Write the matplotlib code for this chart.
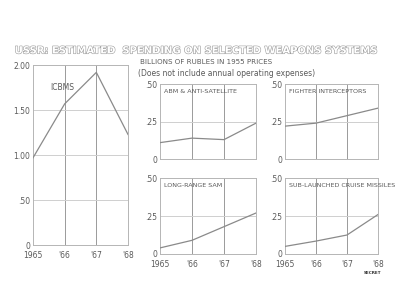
import matplotlib
matplotlib.use('Agg')
import matplotlib.pyplot as plt
import matplotlib.patheffects as pe

# Estimated spending, billions of rubles (1955 prices)
years = [1965, 1966, 1967, 1968]
year_labels = ['1965', "'66", "'67", "'68"]
icbms = [0.97, 1.57, 1.92, 1.23]
abm = [0.11, 0.14, 0.13, 0.24]
fighters = [0.22, 0.24, 0.29, 0.34]
sam = [0.04, 0.09, 0.18, 0.27]
subs = [0.05, 0.085, 0.125, 0.26]

line_c = '#8a8a8a'
grid_c = '#b5b5b5'
text_c = '#5a5a5a'

fig = plt.figure(figsize=(4.0, 3.06), dpi=100)


def style_axes(ax, ymax, yticks, yticklabels, show_x):
    ax.set_xlim(years[0], years[-1])
    ax.set_ylim(0, ymax)
    ax.set_yticks(yticks)
    ax.set_yticklabels(yticklabels, fontsize=5.5, color=text_c)
    ax.set_xticks(years)
    if show_x:
        ax.set_xticklabels(year_labels, fontsize=5.5, color=text_c)
    else:
        ax.set_xticklabels([])
    ax.tick_params(axis='y', length=0, pad=2)
    ax.tick_params(axis='x', length=0, pad=4)
    for s in ax.spines.values():
        s.set_color(grid_c)
        s.set_linewidth(0.7)
    for x in years[1:-1]:
        ax.axvline(x, color='#9a9a9a', lw=0.7, zorder=1)
    for y in yticks[1:-1]:
        ax.axhline(y, color='#cfcfcf', lw=0.7, zorder=1)


# ICBMs (big panel)
ax = fig.add_axes([0.0825, 0.199, 0.2375, 0.588])
style_axes(ax, 2.0, [0, 0.5, 1.0, 1.5, 2.0], ['0', '.50', '1.00', '1.50', '2.00'], True)
ax.plot(years, icbms, color=line_c, lw=0.9, zorder=3)
ax.text(1965.55, 1.72, 'ICBMS', fontsize=5.5, color=text_c)

small = [
    ([0.40, 0.480, 0.24, 0.245], abm, 'ABM & ANTI-SATELLITE', False),
    ([0.7125, 0.480, 0.2325, 0.245], fighters, 'FIGHTER INTERCEPTORS', False),
    ([0.40, 0.170, 0.24, 0.248], sam, 'LONG-RANGE SAM', True),
    ([0.7125, 0.170, 0.2325, 0.248], subs, 'SUB-LAUNCHED CRUISE MISSILES', True),
]
for rect, vals, label, show_x in small:
    a = fig.add_axes(rect)
    style_axes(a, 0.5, [0, 0.25, 0.5], ['0', '.25', '.50'], show_x)
    a.plot(years, vals, color=line_c, lw=0.9, zorder=3)
    a.text(0.04, 0.93, label, transform=a.transAxes, fontsize=4.6,
           color=text_c, va='top', ha='left')

# Titles
fig.text(0.49, 0.835, 'USSR: ESTIMATED  SPENDING ON SELECTED WEAPONS SYSTEMS',
         ha='center', va='center', fontsize=7.2, fontweight='bold', color='white',
         path_effects=[pe.withStroke(linewidth=0.8, foreground='#9a9a9a')])
fig.text(0.35, 0.797, 'BILLIONS OF RUBLES IN 1955 PRICES', fontsize=5.1,
         color=text_c, va='center')
fig.text(0.345, 0.761, '(Does not include annual operating expenses)',
         fontsize=5.5, color=text_c, va='center')
fig.text(0.93, 0.108, 'SECRET', fontsize=3, color='#333333', ha='center',
         va='center', fontweight='bold')

fig.savefig('out.png', dpi=100)
